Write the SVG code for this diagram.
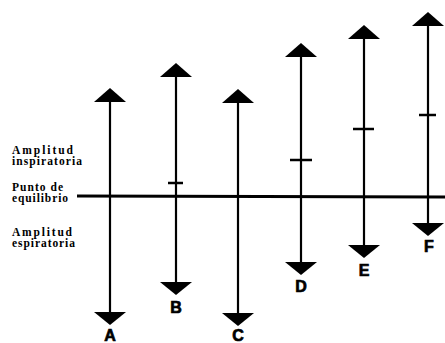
<svg xmlns="http://www.w3.org/2000/svg" xmlns:xlink="http://www.w3.org/1999/xlink" width="445" height="343" viewBox="0 0 445 343">
<defs>
<path id="up" d="M0,0 L16,14 L-16,14 Z"/>
<path id="down" d="M-16,0 L16,0 L0,13 Z"/>
</defs>
<style>
.bar{stroke:#000;stroke-width:2.2;fill:none}
.tick{stroke:#000;stroke-width:2.5;fill:none}
.head{fill:#000}
.lbl{font-family:"Liberation Sans",Arial,sans-serif;font-weight:bold;font-size:16px;fill:#000;stroke:#000;stroke-width:0.7;text-anchor:middle}
.side{font-family:"Liberation Serif","Times New Roman",serif;font-weight:bold;font-size:11.5px;fill:#000}
</style>
<rect width="445" height="343" fill="#fff"/>
<g id="labels-left">
<text class="side" x="12" y="154" textLength="61" lengthAdjust="spacing">Amplitud</text>
<text class="side" x="12" y="165" textLength="70" lengthAdjust="spacing">inspiratoria</text>
<text class="side" x="12" y="191" textLength="51" lengthAdjust="spacing">Punto de</text>
<text class="side" x="12" y="202" textLength="56" lengthAdjust="spacing">equilibrio</text>
<text class="side" x="12" y="236" textLength="60" lengthAdjust="spacing">Amplitud</text>
<text class="side" x="12" y="247" textLength="63" lengthAdjust="spacing">espiratoria</text>
</g>
<g id="connectors">
<line x1="77" y1="196" x2="445" y2="197" stroke="#000" stroke-width="3"/>
</g>
<g id="A">
<line class="bar" x1="110" y1="95" x2="110" y2="318"/>
<use href="#up" xlink:href="#up" class="head" x="110" y="88"/>
<use href="#down" xlink:href="#down" class="head" x="110" y="312"/>
<text class="lbl" x="110" y="341">A</text>
</g>
<g id="B">
<line class="bar" x1="176" y1="70" x2="176" y2="288"/>
<use href="#up" xlink:href="#up" class="head" x="176" y="63"/>
<use href="#down" xlink:href="#down" class="head" x="176" y="282"/>
<line class="tick" x1="168" y1="183" x2="183" y2="183"/>
<text class="lbl" x="176" y="313">B</text>
</g>
<g id="C">
<line class="bar" x1="238" y1="96" x2="238" y2="319"/>
<use href="#up" xlink:href="#up" class="head" x="238" y="89"/>
<use href="#down" xlink:href="#down" class="head" x="238" y="313"/>
<text class="lbl" x="238" y="341">C</text>
</g>
<g id="D">
<line class="bar" x1="301" y1="50" x2="301" y2="268"/>
<use href="#up" xlink:href="#up" class="head" x="301" y="43"/>
<use href="#down" xlink:href="#down" class="head" x="301" y="262"/>
<line class="tick" x1="290" y1="160" x2="312" y2="160"/>
<text class="lbl" x="301" y="292">D</text>
</g>
<g id="E">
<line class="bar" x1="364" y1="32" x2="364" y2="251"/>
<use href="#up" xlink:href="#up" class="head" x="364" y="25"/>
<use href="#down" xlink:href="#down" class="head" x="364" y="245"/>
<line class="tick" x1="353" y1="129" x2="374" y2="129"/>
<text class="lbl" x="364" y="276">E</text>
</g>
<g id="F">
<line class="bar" x1="428" y1="19" x2="428" y2="229"/>
<use href="#up" xlink:href="#up" class="head" x="428" y="12"/>
<use href="#down" xlink:href="#down" class="head" x="428" y="223"/>
<line class="tick" x1="419" y1="115" x2="436" y2="115"/>
<text class="lbl" x="429" y="252">F</text>
</g>
</svg>
